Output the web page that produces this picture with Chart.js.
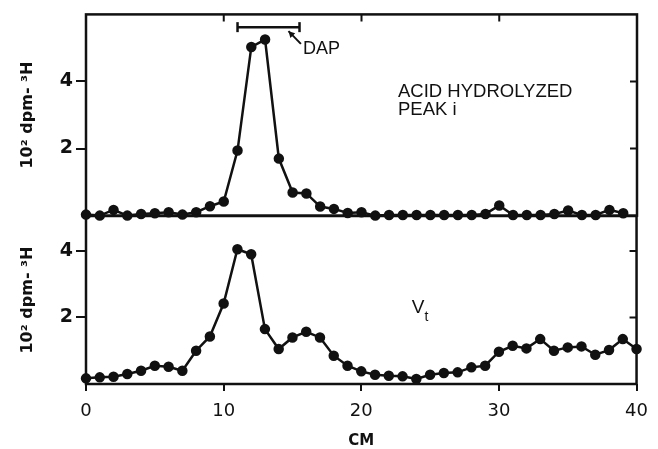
<!DOCTYPE html>
<html>
<head>
<meta charset="utf-8">
<script src="https://cdn.jsdelivr.net/npm/chart.js@4.4.0/dist/chart.umd.min.js"></script>
<style>
  html, body { margin: 0; padding: 0; background: #fff; overflow: hidden; }
  #wrap { position: relative; width: 658px; height: 449px; }
  #topChart { position: absolute; left: 0; top: 0; }
  #bottomChart { position: absolute; left: 0; top: 200px; }
</style>
</head>
<body>
<div id="wrap">
  <canvas id="bottomChart" width="658" height="249"></canvas>
  <canvas id="topChart" width="658" height="230"></canvas>
</div>
<script>
// fraction position along the gel, in cm
const topCm = [0, 1, 2, 3, 4, 5, 6, 7, 8, 9, 10, 11, 12, 13, 14, 15, 16, 17, 18, 19,
  20, 21, 22, 23, 24, 25, 26, 27, 28, 29, 30, 31, 32, 33, 34, 35, 36, 37, 38, 39];
const bottomCm = [0, 1, 2, 3, 4, 5, 6, 7, 8, 9, 10, 11, 12, 13, 14, 15, 16, 17, 18, 19,
  20, 21, 22, 23, 24, 25, 26, 27, 28, 29, 30, 31, 32, 33, 34, 35, 36, 37, 38, 39, 40];

// 10^2 dpm 3H, acid hydrolyzed peak i (top panel)
const acidPeak = [0.03, 0, 0.17, 0, 0.05, 0.07, 0.1, 0.03, 0.1, 0.28, 0.42, 1.94, 5.03, 5.25,
  1.7, 0.69, 0.66, 0.27, 0.2, 0.08, 0.1, 0, 0.02, 0.02, 0.02, 0.02, 0.02, 0.02, 0.02, 0.05,
  0.3, 0.02, 0.02, 0.02, 0.05, 0.15, 0.02, 0.02, 0.17, 0.07];

// 10^2 dpm 3H, lower panel (Vt)
const vtPeak = [0.17, 0.2, 0.22, 0.3, 0.4, 0.55, 0.52, 0.4, 1.0, 1.43, 2.42, 4.05, 3.9, 1.65,
  1.05, 1.4, 1.57, 1.4, 0.85, 0.55, 0.38, 0.28, 0.25, 0.23, 0.15, 0.28, 0.33, 0.35, 0.5, 0.55,
  0.97, 1.15, 1.07, 1.35, 1.0, 1.1, 1.13, 0.88, 1.02, 1.35, 1.05];

// DAP marker bar
const dapRange = [11, 15.5];
const dapLevel = 5.62;

const xTicks = [0, 10, 20, 30, 40];
const yTicks = [2, 4];

const ink = '#111';
const sans = '"Liberation Sans", Arial, sans-serif';
const wide = '"DejaVu Sans", sans-serif';

const toPoints = (xs, ys) => xs.map((x, i) => ({ x: x, y: ys[i] }));

// frame round the plot area plus the small inward ticks
const framePlugin = {
  id: 'frame',
  beforeDatasetsDraw(chart, args, opts) {
    const { ctx, chartArea: a, scales } = chart;
    ctx.save();
    ctx.strokeStyle = ink;
    ctx.lineWidth = 2.5;
    ctx.strokeRect(a.left, a.top, a.width, a.height);
    ctx.lineWidth = 2;
    ctx.beginPath();
    (opts.right || []).forEach(v => {
      const y = scales.y.getPixelForValue(v);
      ctx.moveTo(a.right - 7, y);
      ctx.lineTo(a.right, y);
    });
    (opts.top || []).forEach(v => {
      const x = scales.x.getPixelForValue(v);
      ctx.moveTo(x, a.top);
      ctx.lineTo(x, a.top + 7);
    });
    ctx.stroke();
    ctx.restore();
  }
};

// free text labels, placed in data units
const notesPlugin = {
  id: 'notes',
  afterDraw(chart, args, opts) {
    const { ctx, scales } = chart;
    ctx.save();
    ctx.fillStyle = ink;
    ctx.strokeStyle = ink;
    ctx.textBaseline = 'middle';
    (opts.texts || []).forEach(t => {
      ctx.font = t.font;
      ctx.fillText(t.text, scales.x.getPixelForValue(t.x), scales.y.getPixelForValue(t.y));
    });
    (opts.arrows || []).forEach(ar => {
      const x1 = scales.x.getPixelForValue(ar.from[0]), y1 = scales.y.getPixelForValue(ar.from[1]);
      const x2 = scales.x.getPixelForValue(ar.to[0]), y2 = scales.y.getPixelForValue(ar.to[1]);
      const ang = Math.atan2(y2 - y1, x2 - x1);
      ctx.lineWidth = 2;
      ctx.beginPath();
      ctx.moveTo(x1, y1);
      ctx.lineTo(x2, y2);
      ctx.stroke();
      ctx.beginPath();
      ctx.moveTo(x2, y2);
      ctx.lineTo(x2 - 7 * Math.cos(ang - 0.5), y2 - 7 * Math.sin(ang - 0.5));
      ctx.lineTo(x2 - 7 * Math.cos(ang + 0.5), y2 - 7 * Math.sin(ang + 0.5));
      ctx.closePath();
      ctx.fill();
    });
    ctx.restore();
  }
};

const seriesStyle = {
  borderColor: ink,
  backgroundColor: ink,
  borderWidth: 2.5,
  pointRadius: 4,
  pointHoverRadius: 4,
  tension: 0,
  clip: false
};

const yAxis = (max) => ({
  min: 0,
  max: max,
  afterFit: s => { s.width = 86; },
  afterBuildTicks: s => { s.ticks = yTicks.map(v => ({ value: v })); },
  ticks: { color: ink, padding: 3, font: { family: wide, size: 19, weight: 'bold' } },
  grid: { drawOnChartArea: false, drawTicks: true, tickLength: 10, color: ink, lineWidth: 2 },
  border: { display: false },
  title: {
    display: true,
    text: '10² dpm- ³H',
    color: ink,
    font: { family: wide, size: 16, weight: 'bold' },
    padding: { top: 18, bottom: 0 }
  }
});

const topChart = new Chart(document.getElementById('topChart').getContext('2d'), {
  type: 'line',
  data: {
    datasets: [{
      ...seriesStyle,
      data: toPoints(topCm, acidPeak)
    }, {
      data: dapRange.map(x => ({ x: x, y: dapLevel })),
      borderColor: ink,
      backgroundColor: ink,
      borderWidth: 2.5,
      pointStyle: 'line',
      rotation: 90,
      pointRadius: 5,
      pointBorderWidth: 2.5,
      clip: false
    }]
  },
  options: {
    responsive: false,
    devicePixelRatio: 1,
    animation: false,
    events: [],
    layout: { padding: { top: 10, right: 21, left: 0, bottom: 0 } },
    plugins: {
      legend: { display: false },
      tooltip: { enabled: false },
      frame: { right: yTicks, top: [10, 20, 30] },
      notes: {
        texts: [
          { text: 'ACID HYDROLYZED', x: 22.65, y: 3.69, font: '18.5px ' + sans },
          { text: 'PEAK i', x: 22.65, y: 3.14, font: '18.5px ' + sans },
          { text: 'DAP', x: 15.75, y: 4.97, font: '18px ' + sans }
        ],
        arrows: [{ from: [15.6, 5.12], to: [14.7, 5.5] }]
      }
    },
    scales: {
      x: {
        type: 'linear',
        min: 0,
        max: 40,
        ticks: { display: false },
        grid: { display: false },
        border: { display: false },
        afterFit: s => { s.height = 14; }
      },
      y: yAxis(6)
    }
  },
  plugins: [framePlugin, notesPlugin]
});

const bottomChart = new Chart(document.getElementById('bottomChart').getContext('2d'), {
  type: 'line',
  data: {
    datasets: [{
      ...seriesStyle,
      data: toPoints(bottomCm, vtPeak)
    }]
  },
  options: {
    responsive: false,
    devicePixelRatio: 1,
    animation: false,
    events: [],
    layout: { padding: { top: 16, right: 21, left: 0, bottom: 0 } },
    plugins: {
      legend: { display: false },
      tooltip: { enabled: false },
      frame: { right: yTicks },
      notes: {
        texts: [
          { text: 'V', x: 23.66, y: 2.28, font: '19px ' + sans },
          { text: 't', x: 24.6, y: 2.0, font: '14px ' + sans }
        ]
      }
    },
    scales: {
      x: {
        type: 'linear',
        min: 0,
        max: 40,
        afterBuildTicks: s => { s.ticks = xTicks.map(v => ({ value: v })); },
        ticks: { color: ink, padding: 10, maxRotation: 0, autoSkip: false, font: { family: wide, size: 18 } },
        grid: { drawOnChartArea: false, drawTicks: true, tickLength: 7, color: ink, lineWidth: 2 },
        border: { display: false },
        title: {
          display: true,
          text: 'CM',
          color: ink,
          font: { family: wide, size: 15, weight: 'bold', lineHeight: 1 },
          padding: 0
        },
        afterFit: s => { s.height = 65; }
      },
      y: yAxis(5.05)
    }
  },
  plugins: [framePlugin, notesPlugin]
});
</script>
</body>
</html>
